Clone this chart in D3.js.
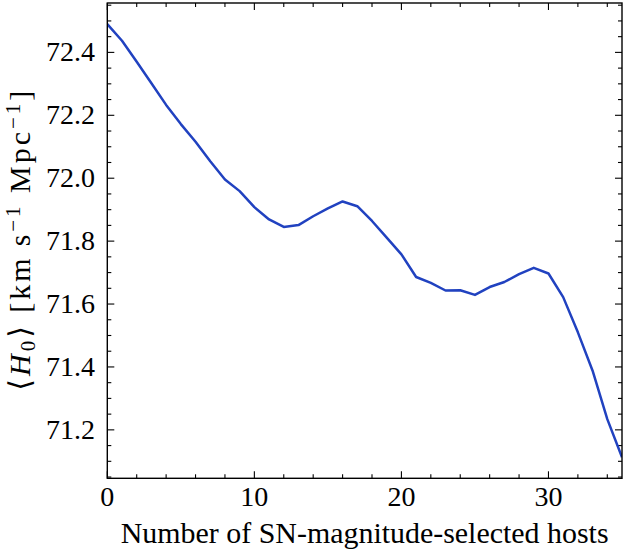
<!DOCTYPE html>
<html><head><meta charset="utf-8">
<script src="https://cdn.jsdelivr.net/npm/d3@7"></script>
<style>
html,body{margin:0;padding:0;background:#fff;}
svg{display:block;}
text{font-family:"Liberation Serif","DejaVu Serif",serif;fill:#000;}
</style></head>
<body>
<svg id="chart" width="624" height="554"></svg>
<script>
// Data
const hosts = [0,1,2,3,4,5,6,7,8,9,10,11,12,13,14,15,16,17,18,19,20,21,22,23,24,25,26,27,28,29,30,31,32,33,34,35];
const meanH0 = [72.490,72.437,72.370,72.302,72.233,72.172,72.116,72.054,71.996,71.959,71.908,71.869,71.845,71.851,71.879,71.904,71.926,71.911,71.864,71.811,71.758,71.686,71.667,71.643,71.644,71.629,71.654,71.670,71.695,71.715,71.697,71.622,71.510,71.388,71.234,71.113];
const xTicks = [0,10,20,30];
const yTicks = [71.2,71.4,71.6,71.8,72.0,72.2,72.4];
const xLabel = "Number of SN-magnitude-selected hosts";

const svg = d3.select("#chart");
const L = 107.3, R = 622, T = 3, B = 478.3;
const x = d3.scaleLinear().domain([0,35]).range([L,R]);
const y = d3.scaleLinear().domain([71.046,72.557]).range([B,T]);

const fs = 28;
const major = 7, minor = 4;
const minorX = d3.range(0,35.001,2).filter(v=>!xTicks.includes(v));
const minorY = d3.range(71.05,72.56,0.05).map(v=>+v.toFixed(2)).filter(v=>!yTicks.some(t=>Math.abs(t-v)<1e-6));

const g = svg.append("g");
function ticks(vals, len){
  vals.forEach(v=>{
    const px = x(v);
    g.append("line").attr("x1",px).attr("x2",px).attr("y1",B).attr("y2",B-len).attr("stroke","#000").attr("stroke-width",1.1);
    g.append("line").attr("x1",px).attr("x2",px).attr("y1",T).attr("y2",T+len).attr("stroke","#000").attr("stroke-width",1.1);
  });
}
function ticksY(vals, len){
  vals.forEach(v=>{
    const py = y(v);
    g.append("line").attr("y1",py).attr("y2",py).attr("x1",L).attr("x2",L+len).attr("stroke","#000").attr("stroke-width",1.1);
    g.append("line").attr("y1",py).attr("y2",py).attr("x1",R).attr("x2",R-len).attr("stroke","#000").attr("stroke-width",1.1);
  });
}
ticks(xTicks, major); ticks(minorX, minor);
ticksY(yTicks, major); ticksY(minorY, minor);

const line = d3.line().x((d,i)=>x(hosts[i])).y(d=>y(d));
svg.append("defs").append("clipPath").attr("id","clip").append("rect")
  .attr("x",L).attr("y",T).attr("width",R-L).attr("height",B-T);
svg.append("path").datum(meanH0).attr("d",line).attr("fill","none")
  .attr("stroke","#2142c0").attr("stroke-width",2.5).attr("stroke-linejoin","round")
  .attr("clip-path","url(#clip)");

svg.append("rect").attr("x",L).attr("y",T).attr("width",R-L).attr("height",B-T)
  .attr("fill","none").attr("stroke","#000").attr("stroke-width",1.4);

xTicks.forEach(v=>{
  svg.append("text").attr("x",x(v)).attr("y",506).attr("text-anchor","middle")
    .attr("font-size",fs).text(String(v));
});
yTicks.forEach(v=>{
  svg.append("text").attr("x",95).attr("y",y(v)+9).attr("text-anchor","end")
    .attr("font-size",fs).text(v.toFixed(1));
});

const xl = svg.append("text").attr("x",(L+R)/2+0).attr("y",543).attr("text-anchor","middle")
  .attr("font-size",fs).text(xLabel);
const w = xl.node().getComputedTextLength();
xl.attr("font-size", fs*488/w);

// y label
const ys = 30;
const yg = svg.append("g").attr("transform",`translate(30,${(T+B)/2}) rotate(-90)`);
const yl = yg.append("text").attr("x",0).attr("y",0).attr("font-size",ys);
yl.append("tspan").text("\u27E8");
yl.append("tspan").attr("font-style","italic").text("H");
yl.append("tspan").attr("font-size",ys*0.7).attr("dy",5).text("0");
yl.append("tspan").attr("dy",-5).text("\u27E9 [km\u2009s");
yl.append("tspan").attr("font-size",ys*0.7).attr("dy",-10).text("\u22121");
yl.append("tspan").attr("dy",10).text(" Mpc");
yl.append("tspan").attr("font-size",ys*0.7).attr("dy",-10).text("\u22121");
yl.append("tspan").attr("dy",10).text("]");
let bb = yl.node().getBBox();
const nChars = yl.text().length;
const target = 300;
const ls = Math.max(0,(target - bb.width)/(nChars-1));
yl.style("letter-spacing", ls+"px");
bb = yl.node().getBBox();
yl.attr("x", -bb.width/2 + ls/2);
</script>
</body></html>
